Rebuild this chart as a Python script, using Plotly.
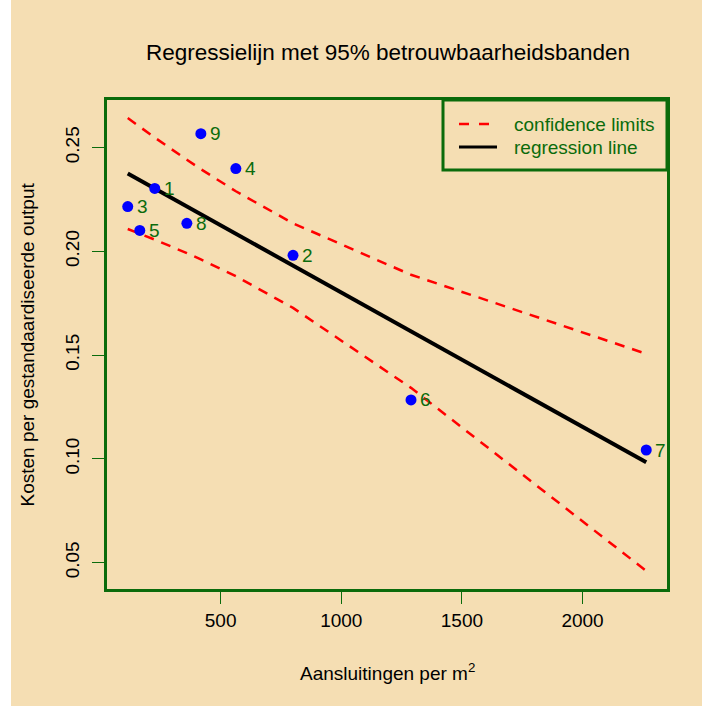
import numpy as np
import plotly.graph_objects as go

# Observations: connections per m2 vs. cost per standardised output
obs_labels = ["1", "2", "3", "4", "5", "6", "7", "8", "9"]
aansluitingen = [227, 800, 115, 563, 165, 1289, 2264, 360, 418]
kosten = [0.2303, 0.1981, 0.2216, 0.2399, 0.2101, 0.1284, 0.1043, 0.2135, 0.2567]

x_ticks = [500, 1000, 1500, 2000]
y_ticks = [0.05, 0.10, 0.15, 0.20, 0.25]

T_975_DF7 = 2.364624  # Student t, 97.5% quantile, n - 2 = 7 df

# Ordinary least squares fit and 95% confidence band for the mean
x = np.array(aansluitingen, dtype=float)
y = np.array(kosten, dtype=float)
n = len(x)
xm, ym = x.mean(), y.mean()
sxx = ((x - xm) ** 2).sum()
b1 = ((x - xm) * (y - ym)).sum() / sxx
b0 = ym - b1 * xm
resid = y - (b0 + b1 * x)
s = np.sqrt((resid ** 2).sum() / (n - 2))

xs = np.sort(x)
fit = b0 + b1 * xs
half = T_975_DF7 * s * np.sqrt(1.0 / n + (xs - xm) ** 2 / sxx)
upper = fit + half
lower = fit - half

# R-style 4% padding of the axis ranges
xr = x.max() - x.min()
x_range = [x.min() - 0.04 * xr, x.max() + 0.04 * xr]
ylo, yhi = lower.min(), upper.max()
yr = yhi - ylo
y_range = [ylo - 0.04 * yr, yhi + 0.04 * yr]

GREEN = "#0b6b0b"
BG = "#F5DEB3"
FONT = "Liberation Sans, Arial, Helvetica, sans-serif"

W, H = 702, 706
L, R, T, B = 107, 35, 100, 117
PW, PH = W - L - R, H - T - B


def px_x(px):
    return (px - L) / PW


def px_y(py):
    return (H - B - py) / PH


fig = go.Figure()

fig.add_trace(go.Scatter(
    x=xs, y=upper, mode="lines",
    line=dict(color="#ff0000", width=2.5, dash="10px,8px"),
    hoverinfo="skip", showlegend=False))
fig.add_trace(go.Scatter(
    x=xs, y=lower, mode="lines",
    line=dict(color="#ff0000", width=2.5, dash="10px,8px"),
    hoverinfo="skip", showlegend=False))
fig.add_trace(go.Scatter(
    x=[xs[0], xs[-1]], y=[fit[0], fit[-1]], mode="lines",
    line=dict(color="black", width=4),
    hoverinfo="skip", showlegend=False))
fig.add_trace(go.Scatter(
    x=aansluitingen, y=kosten, mode="markers",
    marker=dict(color="#0000ff", size=11),
    showlegend=False))

shapes = [
    # white strip at the far left of the page
    dict(type="rect", xref="paper", yref="paper",
         x0=px_x(-5), x1=px_x(11), y0=px_y(H + 5), y1=px_y(-5),
         fillcolor="white", line=dict(width=0), layer="below"),
    # legend box
    dict(type="rect", xref="paper", yref="paper",
         x0=px_x(443), x1=px_x(667), y0=px_y(170), y1=px_y(100),
         line=dict(color=GREEN, width=3), fillcolor="rgba(0,0,0,0)"),
    dict(type="line", xref="paper", yref="paper",
         x0=px_x(459), x1=px_x(491), y0=px_y(124), y1=px_y(124),
         line=dict(color="#ff0000", width=2.5, dash="10px,10px")),
    dict(type="line", xref="paper", yref="paper",
         x0=px_x(459), x1=px_x(497), y0=px_y(147), y1=px_y(147),
         line=dict(color="black", width=3)),
]

# observation numbers next to each point
annotations = [
    dict(text=lab, x=xv, y=yv, xref="x", yref="y",
         xanchor="left", yanchor="middle", xshift=7,
         showarrow=False, font=dict(color=GREEN, size=19, family=FONT))
    for lab, xv, yv in zip(obs_labels, aansluitingen, kosten)
]

annotations += [
    dict(text="confidence limits", xref="paper", yref="paper",
         x=px_x(512), y=px_y(124), xanchor="left", yanchor="middle",
         showarrow=False, font=dict(color=GREEN, size=19, family=FONT)),
    dict(text="regression line", xref="paper", yref="paper",
         x=px_x(512), y=px_y(147), xanchor="left", yanchor="middle",
         showarrow=False, font=dict(color=GREEN, size=19, family=FONT)),
    dict(text="Aansluitingen per m<sup>2</sup>", xref="paper", yref="paper",
         x=0.5, y=px_y(672), xanchor="center", yanchor="middle",
         showarrow=False, font=dict(color="black", size=19, family=FONT)),
    dict(text="Kosten per gestandaardiseerde output", xref="paper", yref="paper",
         x=px_x(27), y=0.5, xanchor="center", yanchor="middle", textangle=-90,
         showarrow=False, font=dict(color="black", size=19, family=FONT)),
]

axis_common = dict(
    showline=True, linecolor=GREEN, linewidth=3, mirror=True,
    ticks="outside", ticklen=12, tickwidth=1, tickcolor=GREEN,
    showgrid=False, zeroline=False,
    tickfont=dict(color="black", size=19, family=FONT),
)

fig.update_layout(
    width=W, height=H,
    margin=dict(l=L, r=R, t=T, b=B),
    paper_bgcolor=BG, plot_bgcolor=BG,
    title=dict(text="Regressielijn met 95% betrouwbaarheidsbanden",
               x=388 / W, xanchor="center",
               y=1 - 52 / H, yanchor="middle",
               font=dict(color="black", size=22.5, family=FONT)),
    xaxis=dict(range=x_range, tickvals=x_ticks,
               ticktext=[str(v) for v in x_ticks], **axis_common),
    yaxis=dict(range=y_range, tickvals=y_ticks,
               ticktext=[f"{v:.2f}" for v in y_ticks], tickangle=-90,
               ticklabelstandoff=5, **axis_common),
    shapes=shapes, annotations=annotations,
    showlegend=False,
)

fig.write_html("out.html")
